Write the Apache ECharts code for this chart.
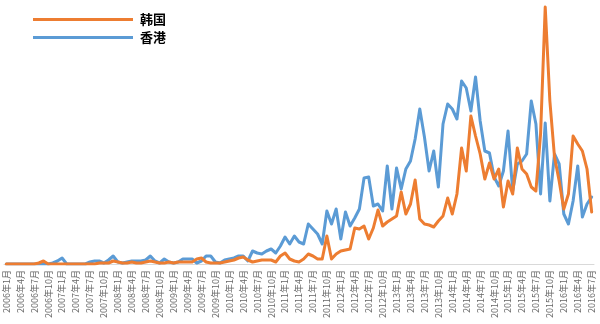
<!DOCTYPE html>
<html>
<head>
<meta charset="utf-8">
<script src="https://cdn.jsdelivr.net/npm/echarts@6/dist/echarts.min.js"></script>
<style>html,body{margin:0;padding:0;background:#fff}#c{width:600px;height:324px}</style>
</head>
<body>
<div id="c"></div>
<script>
// Months from 2006-01 to 2016-07
var startYear = 2006, endYear = 2016, endMonth = 7;
var categories = [];
for (var y = startYear; y <= endYear; y++) {
  for (var m = 1; m <= 12; m++) {
    if (y === endYear && m > endMonth) break;
    categories.push(y + '年' + m + '月');
  }
}
var seriesNames = ['韩国', '香港'];
// 韩国 (orange)
var korea = [
  0,0,0,0,0,0,0,1,3,0, 0,0,0,0,0,0,0,0,0,0,
  1,1,1,3,2,1,1,2,1,1, 2,3,2,1,1,2,1,2,2,2,
  2,5,6,2,1,1,1,2,3,4, 6,7,4,2,3,4,4,4,2,8,
  11,5,3,2,5,10,8,5,5,28, 5,10,13,14,15,36,35,38,25,36,
  54,38,42,45,48,72,50,60,84,45, 40,39,37,43,48,66,50,70,116,93,
  148,128,110,85,101,85,95,57,83,70, 116,95,90,77,73,130,257,163,107,83,
  55,70,128,120,113,95,52
];
// 香港 (blue)
var hongkong = [
  0,0,0,0,0,0,0,0,0,0, 1,3,6,0,0,0,0,0,2,3,
  3,1,4,8,2,1,2,3,3,3, 4,8,3,1,5,2,1,2,5,5,
  5,1,3,8,8,2,1,4,5,6, 8,8,3,13,11,10,13,15,11,18,
  27,20,28,22,20,40,35,30,20,53, 40,55,25,52,38,46,55,86,87,58,
  60,53,98,55,96,75,95,103,125,155, 127,93,113,77,140,160,155,145,183,176,
  153,187,143,113,111,87,78,93,133,73, 100,103,110,163,140,70,141,63,110,100,
  50,40,63,98,47,60,67
];

var chart = echarts.init(document.getElementById('c'), null, {renderer: 'canvas'});
chart.setOption({
  animation: false,
  backgroundColor: '#ffffff',
  grid: {left: 4, right: 6, top: 4, bottom: 60, containLabel: false},
  legend: {
    orient: 'vertical',
    left: 28,
    top: 8,
    itemWidth: 100,
    itemHeight: 3,
    itemGap: 5,
    data: [{name: seriesNames[0], icon: 'rect'}, {name: seriesNames[1], icon: 'rect'}],
    textStyle: {fontFamily: 'Noto Sans CJK SC', fontSize: 13, fontWeight: 'bold', color: '#000', padding: [0, 0, 0, 2]}
  },
  xAxis: {
    type: 'category',
    data: categories,
    boundaryGap: true,
    axisLine: {lineStyle: {color: '#d9d9d9', width: 1}},
    axisTick: {show: false},
    axisLabel: {interval: 2, rotate: 90, fontSize: 9, color: '#666666', margin: 6,
      fontFamily: 'Noto Sans CJK SC'}
  },
  yAxis: {
    type: 'value', min: 0, max: 260,
    show: false,
    splitLine: {show: false}
  },
  series: [
    {name: seriesNames[1], type: 'line', data: hongkong, symbol: 'none',
      itemStyle: {color: '#5B9BD5'},
      lineStyle: {color: '#5B9BD5', width: 3, cap: 'round', join: 'round'}},
    {name: seriesNames[0], type: 'line', data: korea, symbol: 'none',
      itemStyle: {color: '#ED7D31'},
      lineStyle: {color: '#ED7D31', width: 3, cap: 'round', join: 'round'}}
  ]
});
</script>
</body>
</html>
